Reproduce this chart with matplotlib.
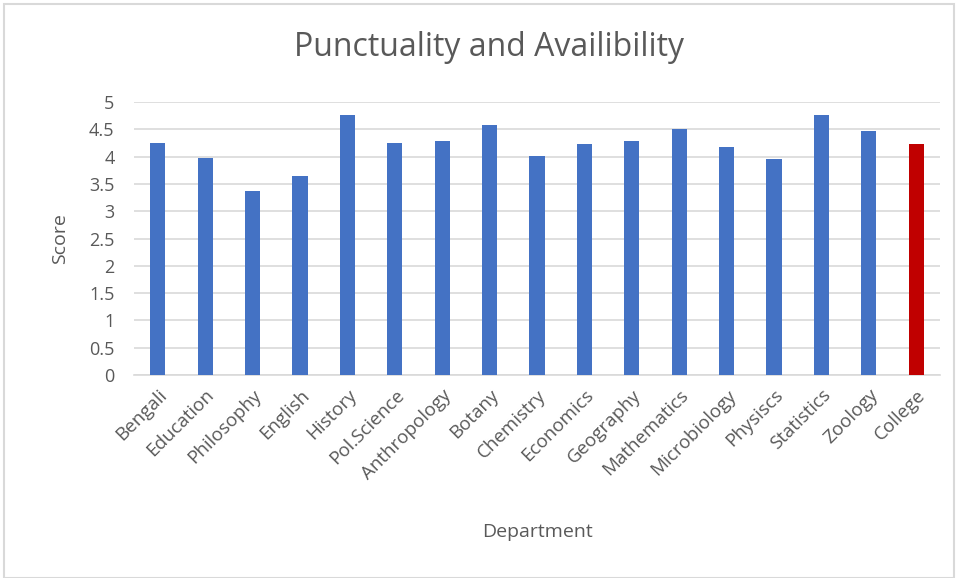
import matplotlib.pyplot as plt
from matplotlib.patches import Rectangle

## Data
departments = ['Bengali', 'Education', 'Philosophy', 'English', 'History', 'Pol.Science',
               'Anthropology', 'Botany', 'Chemistry', 'Economics', 'Geography', 'Mathematics',
               'Microbiology', 'Physiscs', 'Statistics', 'Zoology', 'College']
scores = [4.25, 3.97, 3.37, 3.64, 4.77, 4.25, 4.28, 4.58, 4.02, 4.23, 4.28, 4.51,
          4.18, 3.95, 4.77, 4.47, 4.23]
yticks = [0, 0.5, 1, 1.5, 2, 2.5, 3, 3.5, 4, 4.5, 5]
ytick_labels = ['0', '0.5', '1', '1.5', '2', '2.5', '3', '3.5', '4', '4.5', '5']

plt.rcParams['font.family'] = ['Open Sans', 'DejaVu Sans']
text_col = '#595959'

fig = plt.figure(figsize=(9.58, 5.78), dpi=100)
ax = fig.add_axes([134 / 958, 1 - 375 / 578, (940 - 134) / 958, (375 - 102) / 578])

colors = ['#4472C4'] * (len(departments) - 1) + ['#C00000']
ax.bar(range(len(departments)), scores, width=0.32, color=colors, zorder=3)

ax.set_xlim(-0.5, len(departments) - 0.5)
ax.set_ylim(0, 5)
ax.set_yticks(yticks)
ax.set_yticklabels(ytick_labels)
ax.set_xticks(range(len(departments)))
ax.set_xticklabels(departments, rotation=45, ha='right', rotation_mode='anchor')
ax.tick_params(axis='both', length=0, colors=text_col)
ax.tick_params(axis='x', pad=8, labelsize=13.5)
ax.tick_params(axis='y', pad=14, labelsize=13)
ax.grid(axis='y', color='#D9D9D9', linewidth=1.2, zorder=0)
for s in ['top', 'right', 'left']:
    ax.spines[s].set_visible(False)
ax.spines['bottom'].set_color('#D9D9D9')
ax.spines['bottom'].set_linewidth(1.2)

fig.text(60 / 958, 1 - 239 / 578, 'Score', fontsize=14, color=text_col, ha='center', va='center',
         rotation=90)
fig.text(537 / 958, 1 - 532 / 578, 'Department', fontsize=14, color=text_col, ha='center', va='center')
fig.text(489 / 958, 1 - 48 / 578, 'Punctuality and Availibility', fontsize=23, color=text_col,
         ha='center', va='center')

## light frame around the chart like the spreadsheet export
fig.patches.append(Rectangle((4 / 958, 0), 1 - 8 / 958, 1 - 4 / 578, transform=fig.transFigure,
                             fill=False, edgecolor='#D9D9D9', linewidth=1.5))

fig.savefig('out.png', dpi=100)
